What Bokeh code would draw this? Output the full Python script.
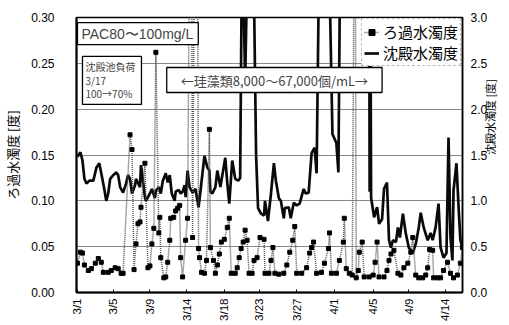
import math
from bokeh.plotting import figure
from bokeh.models import (Range1d, LinearAxis, FixedTicker, Label, Legend, LegendItem,
                          NumeralTickFormatter, ColumnDataSource)
from bokeh.embed import file_html
from bokeh.resources import INLINE

# ---------------- data ----------------
tick_labels = ["3/1", "3/5", "3/9", "3/14", "3/18", "3/23", "3/27", "4/1", "4/5", "4/9", "4/14"]
tick_days = [0.0, 4.37, 8.86, 13.35, 17.96, 22.21, 26.82, 31.43, 36.17, 40.53, 45.02]

# filtered-water turbidity (left axis, degrees)
filt_day = [0.0, 0.36, 0.61, 0.85, 1.33, 1.70, 2.18, 2.55, 2.91, 3.16, 3.76, 4.13, 4.61, 4.98, 5.34, 5.58,
            6.43, 6.67, 6.92, 7.16, 7.40, 7.65, 7.77, 8.25, 8.62, 8.86, 9.10, 9.34, 9.59, 9.95, 10.07, 10.19,
            10.56, 10.80, 11.04, 11.29, 11.41, 11.77, 12.01, 12.26, 12.50, 12.62, 12.86, 13.23, 13.47, 13.71,
            13.96, 14.08, 14.32, 14.68, 14.81, 14.93, 15.17, 15.53, 15.78, 16.14, 16.26, 16.63, 16.87, 17.11,
            17.35, 17.60, 17.96, 18.33, 18.57, 18.81, 19.30, 19.54, 19.78, 20.02, 20.27, 20.51, 20.75, 20.99,
            21.36, 21.60, 21.97, 22.33, 22.82, 22.94, 23.42, 23.67, 23.91, 24.15, 24.63, 25.24, 25.61, 25.97,
            26.33, 26.58, 26.82, 27.43, 28.03, 28.40, 28.64, 28.88, 29.25, 29.85, 30.22, 30.70, 30.83, 31.07,
            31.67, 32.04, 32.52, 32.64, 32.88, 33.25, 33.61, 33.86, 33.98, 34.10, 34.35, 34.47, 34.83, 35.07,
            35.68, 36.17, 36.41, 36.65, 36.89, 37.50, 37.86, 38.11, 38.35, 38.71, 39.20, 39.56, 39.93, 40.41,
            40.78, 41.02, 41.38, 41.75, 42.23, 42.60, 42.84, 43.08, 43.45, 43.57, 44.05, 44.42, 44.78, 45.27,
            45.63, 46.00, 46.48, 46.84, 47.09]
filt_val = [0.032, 0.044, 0.043, 0.030, 0.024, 0.026, 0.032, 0.037, 0.033, 0.022, 0.022, 0.024, 0.027, 0.026,
            0.021, 0.021, 0.172, 0.156, 0.025, 0.053, 0.075, 0.077, 0.093, 0.141, 0.027, 0.029, 0.053, 0.070,
            0.262, 0.065, 0.082, 0.038, 0.016, 0.017, 0.033, 0.057, 0.081, 0.082, 0.089, 0.092, 0.095, 0.038,
            0.017, 0.057, 0.081, 0.40, 0.40, 0.060, 0.40, 0.40, 0.048, 0.038, 0.022, 0.021, 0.035, 0.178,
            0.049, 0.035, 0.021, 0.030, 0.042, 0.055, 0.058, 0.071, 0.081, 0.021, 0.021, 0.027, 0.038, 0.048,
            0.055, 0.068, 0.057, 0.021, 0.021, 0.035, 0.038, 0.060, 0.058, 0.021, 0.021, 0.035, 0.049, 0.021,
            0.020, 0.021, 0.030, 0.044, 0.057, 0.072, 0.021, 0.021, 0.027, 0.043, 0.049, 0.055, 0.021, 0.022,
            0.032, 0.048, 0.065, 0.021, 0.021, 0.035, 0.055, 0.081, 0.026, 0.021, 0.019, 0.40, 0.40, 0.016,
            0.024, 0.044, 0.055, 0.017, 0.017, 0.019, 0.033, 0.055, 0.017, 0.017, 0.024, 0.035, 0.042, 0.046,
            0.021, 0.019, 0.027, 0.032, 0.044, 0.060, 0.019, 0.016, 0.016, 0.019, 0.027, 0.047, 0.046, 0.016,
            0.016, 0.016, 0.024, 0.033, 0.021, 0.016, 0.019, 0.032, 0.049]

# settled-water turbidity (right axis, degrees)
sed_day = [0.0, 0.36, 0.61, 0.85, 1.09, 1.46, 1.94, 2.31, 2.67, 2.91, 3.28, 3.52, 3.76, 4.00, 4.37, 4.73,
           4.98, 5.22, 5.58, 5.95, 6.19, 6.43, 6.67, 7.04, 7.16, 7.65, 7.77, 8.01, 8.25, 8.37, 8.86, 9.10,
           9.47, 9.59, 9.95, 10.19, 10.44, 10.80, 11.04, 11.29, 11.53, 11.89, 12.01, 12.38, 12.62, 12.86,
           13.11, 13.23, 13.47, 13.71, 14.08, 14.44, 14.81, 15.05, 15.53, 15.90, 16.14, 16.26, 16.50, 16.87,
           17.11, 17.48, 17.72, 18.08, 18.33, 18.57, 18.93, 19.30, 19.66, 19.90, 20.15, 20.51, 20.87, 21.48,
           21.85, 22.09, 22.45, 22.82, 22.94, 23.30, 23.67, 24.03, 24.27, 24.63, 24.88, 25.24, 25.36, 25.85,
           26.09, 26.46, 26.82, 27.18, 27.67, 27.91, 28.28, 28.64, 29.01, 29.25, 29.61, 30.70, 31.19, 31.67,
           31.92, 32.16, 35.68, 35.74, 35.80, 35.92, 36.29, 36.65, 36.89, 37.26, 37.50, 37.86, 38.11, 38.35,
           38.59, 38.96, 39.20, 39.44, 39.81, 40.17, 40.53, 41.02, 41.38, 41.75, 41.99, 42.35, 42.84, 43.20,
           43.45, 43.81, 44.17, 44.42, 44.78, 45.14, 45.39, 45.63, 45.87, 46.00, 46.36, 46.60, 46.84, 47.09]
sed_val = [1.48, 1.53, 1.44, 1.24, 1.19, 1.22, 1.22, 1.36, 1.41, 1.30, 1.13, 1.00, 1.08, 1.24, 1.28, 1.31,
           1.28, 1.15, 1.09, 1.19, 1.28, 1.24, 1.08, 1.17, 1.24, 1.15, 1.39, 1.22, 1.04, 1.00, 1.08, 1.13,
           1.03, 1.11, 1.15, 1.08, 1.22, 1.30, 1.20, 1.28, 1.08, 1.00, 1.10, 1.12, 1.08, 1.10,
           1.17, 1.04, 1.33, 1.15, 1.09, 1.13, 0.93, 1.11, 1.49, 1.36, 1.33, 1.10, 1.08, 1.15,
           1.33, 1.15, 1.28, 1.47, 1.19, 0.97, 1.44, 1.24, 1.22, 1.25, 4.0, 2.3, 4.0, 4.0,
           1.50, 0.92, 0.86, 0.84, 1.00, 0.78, 1.08, 1.41, 1.22, 1.03, 1.00, 0.81, 0.92, 0.93,
           0.81, 0.98, 0.95, 0.97, 1.13, 1.08, 1.09, 1.52, 1.58, 1.30, 4.0, 4.0, 1.73, 1.63,
           1.31, 4.0, 4.0, 1.10, 4.0, 1.03, 0.82, 0.93, 0.75, 0.80, 1.13, 1.20, 0.57, 0.49,
           0.57, 0.55, 0.71, 0.60, 0.86, 0.64, 0.49, 0.43, 0.53, 0.71, 0.87, 0.71, 0.57, 0.65,
           0.57, 0.71, 0.97, 0.49, 0.38, 0.43, 1.69, 0.60, 0.35, 1.11, 1.41, 0.97, 0.57, 0.49]

JP = "Noto Sans CJK JP"
LAT = "Liberation Sans"

p = figure(width=509, height=325, output_backend="svg", toolbar_location=None, title=None,
           x_range=Range1d(-0.12, 47.1), y_range=Range1d(0, 0.30),
           min_border_left=73, min_border_right=47, min_border_top=17, min_border_bottom=33)
p.extra_y_ranges = {"sed": Range1d(0, 3.0)}
p.background_fill_color = "white"
p.border_fill_color = "white"
p.outline_line_color = "black"
p.outline_line_width = 1.5

p.xgrid.visible = False
p.ygrid.grid_line_color = "#8a8a8a"
p.ygrid.grid_line_width = 1
p.ygrid.ticker = FixedTicker(ticks=[0.05, 0.10, 0.15, 0.20, 0.25])

# x axis
xa = p.xaxis[0]
xa.ticker = FixedTicker(ticks=tick_days)
xa.major_label_overrides = {d: l for d, l in zip(tick_days, tick_labels)}
xa.major_label_orientation = math.pi / 2
xa.major_label_text_font = LAT
xa.major_label_text_font_size = "11.5px"
xa.major_label_text_color = "black"
xa.major_label_standoff = 6
xa.axis_line_width = 2
xa.axis_line_color = "black"
xa.major_tick_in = 3
xa.major_tick_out = 0
xa.minor_tick_line_color = None

# left axis
ya = p.yaxis[0]
ya.ticker = FixedTicker(ticks=[0.0, 0.05, 0.10, 0.15, 0.20, 0.25, 0.30])
ya.formatter = NumeralTickFormatter(format="0.00")
ya.major_label_text_font = LAT
ya.major_label_text_font_size = "12px"
ya.major_label_text_color = "black"
ya.major_label_standoff = 22
ya.axis_line_width = 2
ya.axis_line_color = "black"
ya.major_tick_line_color = None
ya.major_tick_in = 0
ya.major_tick_out = 0
ya.minor_tick_line_color = None
ya.axis_label = "ろ過水濁度 [度]"
ya.axis_label_text_font = JP
ya.axis_label_text_font_size = "13px"
ya.axis_label_text_font_style = "normal"
ya.axis_label_text_color = "black"
ya.axis_label_standoff = 6

# right axis
ra = LinearAxis(y_range_name="sed", ticker=FixedTicker(ticks=[0.0, 0.5, 1.0, 1.5, 2.0, 2.5, 3.0]),
                formatter=NumeralTickFormatter(format="0.0"))
ra.major_label_text_font = LAT
ra.major_label_text_font_size = "12px"
ra.major_label_text_color = "black"
ra.major_label_standoff = 8
ra.axis_line_color = "black"
ra.axis_line_width = 1.5
ra.major_tick_line_color = None
ra.major_tick_in = 0
ra.major_tick_out = 0
ra.minor_tick_line_color = None
ra.axis_label = "沈殿水濁度 [度]"
ra.axis_label_text_font = JP
ra.axis_label_text_font_size = "11px"
ra.axis_label_text_font_style = "normal"
ra.axis_label_text_color = "black"
ra.axis_label_standoff = 0
ra.axis_label_orientation = math.pi / 2
p.add_layout(ra, "right")

# series
sed_src = ColumnDataSource(dict(x=sed_day, y=sed_val))
filt_src = ColumnDataSource(dict(x=filt_day, y=filt_val))
sed_line = p.line("x", "y", source=sed_src, y_range_name="sed", line_color="#0a0a0a", line_width=2.7)
filt_line = p.line("x", "y", source=filt_src, line_color="#555555", line_width=1.5, line_dash="1 1")
filt_pts = p.scatter("x", "y", source=filt_src, marker="square", size=4, fill_color="black",
                     line_color="black")

legend = Legend(items=[LegendItem(label="ろ過水濁度", renderers=[filt_line, filt_pts]),
                       LegendItem(label="沈殿水濁度", renderers=[sed_line])],
                location="top_right")
legend.label_text_font = JP
legend.label_text_font_size = "15px"
legend.label_text_color = "black"
legend.border_line_color = "#777777"
legend.border_line_dash = "2 1"
legend.background_fill_alpha = 1.0
legend.padding = 2
legend.spacing = 0
legend.margin = 1
legend.glyph_width = 15
legend.glyph_height = 18
legend.label_standoff = 4
legend.label_height = 18
p.add_layout(legend)

# annotation boxes
box1 = Label(x=0.0, y=0.2945, text="PAC80〜100mg/L", text_font=LAT, text_font_size="14px",
             text_align="left", text_baseline="top", anchor="top_left",
             padding=dict(left=4, right=5, top=3, bottom=3),
             border_line_color="black", border_line_width=1.3, background_fill_color="white")
box2 = Label(x=0.61, y=0.2575, text="沈殿池負荷\n3/17\n100→70%", text_font=JP, text_font_size="10px",
             text_line_height=0.9,
             text_align="left", text_baseline="top", anchor="top_left",
             padding=dict(left=3, right=6, top=3, bottom=3),
             border_line_color="black", border_line_width=1.3, background_fill_color="white")
box3 = Label(x=24.09, y=0.2318, text="←珪藻類8,000〜67,000個/mL→", text_font=JP, text_font_size="13px",
             text_align="center", text_baseline="middle", anchor="center",
             padding=dict(left=14, right=14, top=3, bottom=3),
             border_line_color="black", border_line_width=1.3, background_fill_color="white")
for b in (box1, box2, box3):
    p.add_layout(b)

open("out.html", "w").write(file_html(p, INLINE))
